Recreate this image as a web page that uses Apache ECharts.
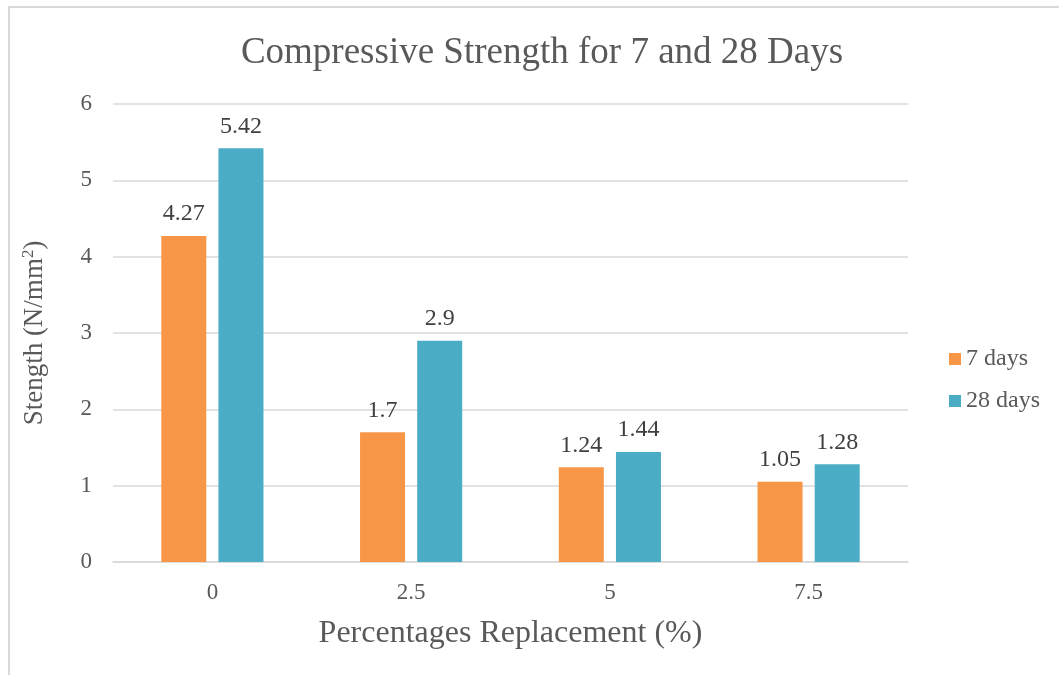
<!DOCTYPE html>
<html><head><meta charset="utf-8">
<script src="https://cdn.jsdelivr.net/npm/echarts@6/dist/echarts.min.js"></script>
<style>html,body{margin:0;padding:0;background:#fff}#c{width:1059px;height:675px}</style>
</head><body><div id="c"></div>
<script>
const categories = ['0', '2.5', '5', '7.5'];
const days7 = [4.27, 1.7, 1.24, 1.05];
const days28 = [5.42, 2.9, 1.44, 1.28];
const seriesNames = ['7 days', '28 days'];
const chartTitle = 'Compressive Strength for 7 and 28 Days';
const xName = 'Percentages Replacement (%)';
const yName = '{a|Stength (N/mm}{s|2}{a|)}';

const serif = '"Liberation Serif", "Times New Roman", serif';
const chart = echarts.init(document.getElementById('c'));
const labelStyle = {show: true, position: 'top', distance: 10, fontFamily: serif, fontSize: 24, color: '#404040'};
chart.setOption({
  animation: false,
  graphic: [{type: 'rect', shape: {x: 9, y: 7, width: 1100, height: 720}, style: {fill: 'none', stroke: '#d9d9d9', lineWidth: 2}, silent: true}],
  title: {text: chartTitle, left: 537, top: 30, textAlign: 'center', textStyle: {fontFamily: serif, fontSize: 37, fontWeight: 'normal', color: '#595959'}},
  legend: {orient: 'vertical', left: 944, top: 342, itemWidth: 12, itemHeight: 12, itemGap: 18, icon: 'rect',
    textStyle: {fontFamily: serif, fontSize: 24, color: '#595959'}, data: seriesNames},
  grid: {left: 113, right: 151, top: 104, bottom: 113},
  xAxis: {type: 'category', data: categories, name: xName, nameLocation: 'middle', nameGap: 56,
    nameTextStyle: {fontFamily: serif, fontSize: 32, color: '#595959'},
    axisLine: {lineStyle: {color: '#d9d9d9', width: 1.5}}, axisTick: {show: false},
    axisLabel: {fontFamily: serif, fontSize: 23, color: '#595959', margin: 19}},
  yAxis: {type: 'value', min: 0, max: 6, interval: 1, name: yName, nameLocation: 'middle', nameGap: 64,
    nameTextStyle: {fontFamily: serif, fontSize: 27, color: '#595959',
      rich: {a: {fontFamily: serif, fontSize: 27, color: '#595959'}, s: {fontFamily: serif, fontSize: 17, color: '#595959', verticalAlign: 'top', padding: [0, 0, 12, 0]}}},
    axisLine: {show: false}, axisTick: {show: false},
    splitLine: {lineStyle: {color: '#d9d9d9', width: 1.5}},
    axisLabel: {fontFamily: serif, fontSize: 23, color: '#595959', margin: 21}},
  series: [
    {name: seriesNames[0], type: 'bar', data: days7, barWidth: 45, barGap: '27%', itemStyle: {color: '#F79646'}, label: labelStyle},
    {name: seriesNames[1], type: 'bar', data: days28, barWidth: 45, itemStyle: {color: '#4BACC6'}, label: labelStyle}
  ]
});
</script></body></html>
